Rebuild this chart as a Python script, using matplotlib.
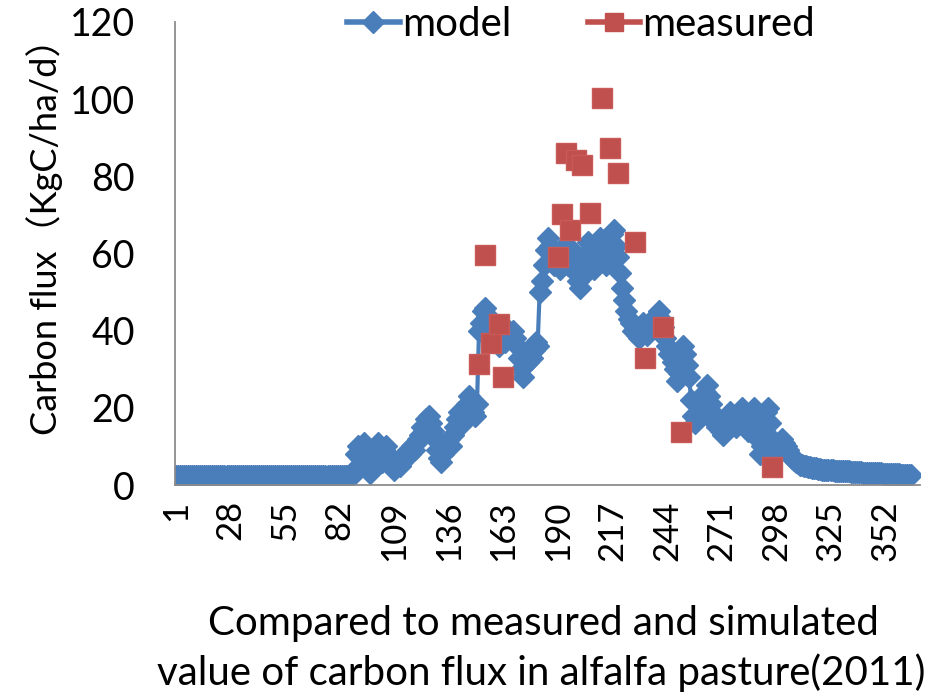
import matplotlib
matplotlib.use("Agg")
import matplotlib.pyplot as plt
import numpy as np
from matplotlib.lines import Line2D

# ---------------- data ----------------
model_days = list(range(1, 366))
model_base = [2.3, 2.3, 2.3, 2.3, 2.3, 2.3, 2.3, 2.3, 2.3, 2.3,
              2.3, 2.3, 2.3, 2.3, 2.3, 2.3, 2.3, 2.3, 2.3, 2.3,
              2.3, 2.3, 2.3, 2.3, 2.3, 2.3, 2.3, 2.3, 2.3, 2.3,
              2.3, 2.3, 2.3, 2.3, 2.3, 2.3, 2.3, 2.3, 2.3, 2.3,
              2.3, 2.3, 2.3, 2.3, 2.3, 2.3, 2.3, 2.3, 2.3, 2.3,
              2.3, 2.3, 2.3, 2.3, 2.3, 2.3, 2.3, 2.3, 2.3, 2.3,
              2.3, 2.3, 2.3, 2.3, 2.3, 2.3, 2.3, 2.3, 2.3, 2.3,
              2.3, 2.3, 2.3, 2.3, 2.3, 2.3, 2.3, 2.3, 2.3, 2.3,
              2.3, 2.3, 2.3, 2.3, 2.3, 2.3, 2.3, 2.3]          # days 1-88
model_spring = [4, 8, 10, 7, 9, 11, 8, 5, 3, 6, 9, 10, 11, 8, 6, 9, 10,   # 89-105
                8, 6, 5, 4, 5, 6, 5, 6, 7, 8, 9, 8, 10, 9, 11, 12, 13, 15, 14, 17,  # 106-125
                18, 16, 14, 12, 9, 7, 6, 8, 10, 11, 12, 10, 13, 15, 17, 19, 18, 16, 20, 21,  # 126-145
                23, 22, 19, 18, 21]                                          # 146-150
model_summer = [40, 42, 45, 46, 44, 41, 39, 38, 40, 37, 36, 38, 39, 37, 38,
                40, 39, 40, 38, 36, 33, 30, 28, 31, 32, 34, 33, 35, 37, 36,   # 151-180
                50, 53, 57, 61, 64, 62, 59, 57, 60, 58, 56, 59, 62, 60, 57,
                59, 61, 58, 55, 53, 51, 54, 57, 60, 63, 61, 58, 56, 59, 62,
                64, 61, 59, 57, 60, 62, 65, 66, 62, 59, 55, 51, 48, 45, 43]   # 181-225
model_autumn = [42, 40, 41, 39, 38, 40, 42, 41, 39, 40, 42, 43, 41, 44, 45,
                43, 41, 38, 36, 34, 35, 32, 30, 27, 29, 33, 36, 34, 31, 28,
                22, 18, 16, 17, 19,                                           # 226-260
                20, 22, 24, 26, 23, 21, 18, 16, 15, 17, 14, 13, 15, 17, 19,
                18, 16, 15, 17, 19, 20, 18, 16, 14, 17, 19, 20, 18, 12, 8,
                10, 14, 19, 20, 16, 12, 9, 8, 10, 11]                         # 261-300
model_winter = [12, 11, 10, 9, 8, 7, 6.5, 6, 5.6, 5.3,
                5.1, 4.9, 4.8, 4.7, 4.6, 4.5, 4.4, 4.3, 4.2, 4.1,             # 301-320
                4.0, 4.0, 3.9, 3.9, 3.8, 3.8, 3.7, 3.7, 3.6, 3.6,
                3.6, 3.5, 3.5, 3.5, 3.4, 3.4, 3.4, 3.3, 3.3, 3.3,
                3.2, 3.2, 3.2, 3.1, 3.1, 3.1, 3.0, 3.0, 3.0, 3.0,
                2.9, 2.9, 2.9, 2.9, 2.8, 2.8, 2.8, 2.8, 2.8, 2.7,
                2.7, 2.7, 2.7, 2.7, 2.7]                                      # 321-365
model_values = model_base + model_spring + model_summer + model_autumn + model_winter
assert len(model_values) == 365, len(model_values)

measured_days = [151, 154, 157, 161, 163, 190, 192, 194, 196, 199,
                 202, 206, 212, 216, 220, 228, 233, 242, 251, 296]
measured_values = [31.3, 59.6, 36.8, 41.8, 28.0, 59.0, 70.3, 86.0, 66.0, 84.2,
                   82.9, 70.4, 100.3, 87.3, 80.8, 63.0, 33.0, 41.0, 13.7, 4.7]

xtick_days = [1, 28, 55, 82, 109, 136, 163, 190, 217, 244, 271, 298, 325, 352]
yticks = [0, 20, 40, 60, 80, 100, 120]

# ---------------- style ----------------
FONT = ['Lato', 'Noto Sans CJK SC', 'DejaVu Sans']
plt.rcParams['font.family'] = FONT
BLUE = '#4A7EBB'
RED = '#C0504D'
AXIS = '#8C8C8C'

W, H = 930, 697
fig = plt.figure(figsize=(W / 100, H / 100), dpi=100)
ax = fig.add_axes([175 / W, 1 - 485 / H, (920 - 175) / W, (485 - 22) / H])

ax.plot(model_days, model_values, color=BLUE, lw=3, marker='D', ms=11,
        mfc=BLUE, mec=BLUE, label='model', zorder=2)
ax.plot(measured_days, measured_values, color=RED, lw=2.8, ls='none', marker='s',
        ms=14, mfc=RED, mec='#C85A57', label='measured', zorder=3)

ax.set_xlim(0.5, 369.3)
ax.set_ylim(0, 120)
ax.set_yticks(yticks)
ax.set_yticklabels([str(v) for v in yticks], fontsize=27)
ax.set_xticks(xtick_days)
ax.set_xticklabels([str(v) for v in xtick_days], fontsize=25, rotation=90)
ax.tick_params(axis='y', length=0, pad=29)
ax.tick_params(axis='x', length=0, pad=11)

for s in ['top', 'right']:
    ax.spines[s].set_visible(False)
for s in ['left', 'bottom']:
    ax.spines[s].set_color(AXIS)
    ax.spines[s].set_linewidth(1.3)

h1 = Line2D([], [], color=BLUE, lw=4, marker='D', ms=11, mfc=BLUE, mec=BLUE)
h2 = Line2D([], [], color=RED, lw=4, marker='s', ms=13, mfc=RED, mec=RED)
fig.legend([h1, h2], ['model', 'measured'], loc='center', ncol=2,
           bbox_to_anchor=(581 / W, 1 - 25 / H), frameon=False, fontsize=29,
           handlelength=1.3, handletextpad=0.05, columnspacing=1.9)

fig.text(45 / W, 1 - 228 / H, 'Carbon flux（KgC/ha/d）', rotation=90,
         ha='center', va='center', fontsize=26,
         family=['Lato', 'Noto Sans CJK SC', 'DejaVu Sans'])
fig.text(543 / W, 1 - 623 / H, 'Compared to measured and simulated',
         ha='center', va='center', fontsize=29)
fig.text(541 / W, 1 - 673 / H, 'value of carbon flux in alfalfa pasture(2011)',
         ha='center', va='center', fontsize=29)

fig.savefig('out.png', dpi=100)
